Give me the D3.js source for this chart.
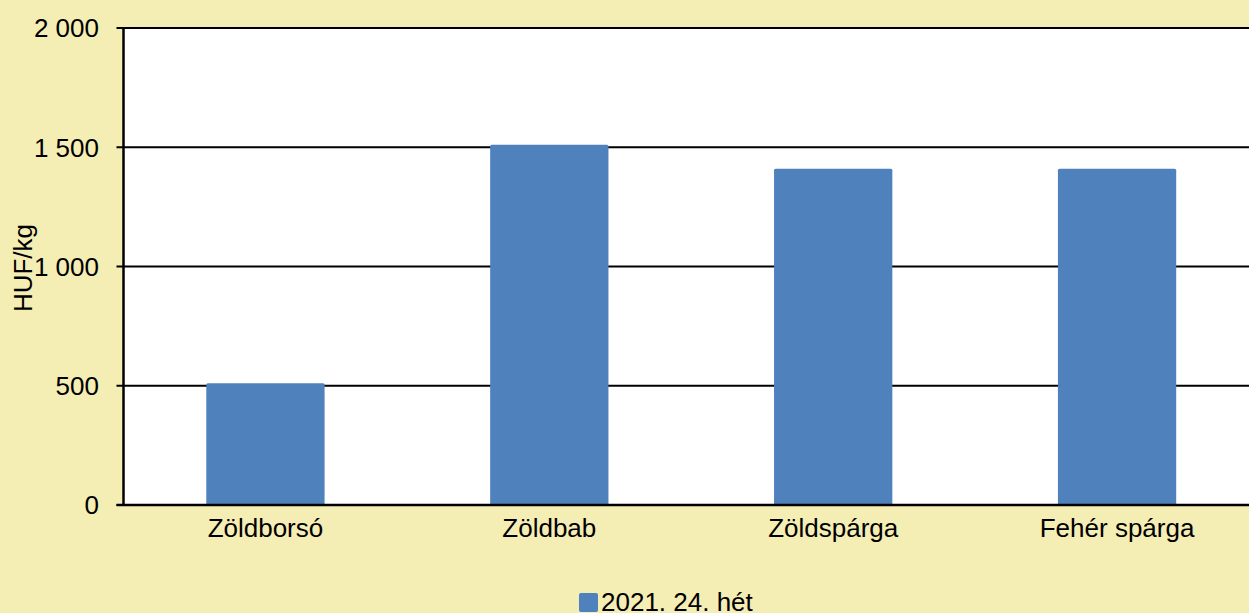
<!DOCTYPE html>
<html>
<head>
<meta charset="utf-8">
<script src="https://cdn.jsdelivr.net/npm/d3@7"></script>
<style>
  html, body { margin: 0; padding: 0; background: #F4EDB4; overflow: hidden; }
  text { font-family: "Liberation Sans", Arial, sans-serif; fill: #000; }
</style>
</head>
<body>
<div id="chart"></div>
<script>
var categories = ["Zöldborsó", "Zöldbab", "Zöldspárga", "Fehér spárga"];
var values = [510, 1510, 1410, 1410];
var yTicks = [0, 500, 1000, 1500, 2000];
var seriesName = "2021. 24. hét";
var yTitle = "HUF/kg";

var W = 1249, H = 613,
    mLeft = 123.5, mRight = 1259, mTop = 28, mBottom = 505,
    gap = 1.4 / 2.4,
    fs = "26px";

var svg = d3.select("#chart").append("svg")
    .attr("width", W)
    .attr("height", H);

svg.append("rect")
    .attr("width", W).attr("height", H)
    .style("fill", "#F4EDB4");

var x = d3.scaleBand()
    .domain(categories)
    .range([mLeft, mRight])
    .paddingInner(gap)
    .paddingOuter(gap / 2);

var y = d3.scaleLinear()
    .domain([0, 2000])
    .range([mBottom, mTop]);

// plot background
svg.append("rect")
    .attr("x", mLeft).attr("y", mTop)
    .attr("width", mRight - mLeft).attr("height", mBottom - mTop)
    .style("fill", "#fff");

// gridlines + ticks
svg.append("g")
    .selectAll("line")
    .data(yTicks)
  .enter().append("line")
    .attr("x1", mLeft - 7)
    .attr("x2", mRight)
    .attr("y1", function(d) { return y(d); })
    .attr("y2", function(d) { return y(d); })
    .style("stroke", "#000")
    .style("stroke-width", 2);

svg.append("g")
    .selectAll("text")
    .data(yTicks)
  .enter().append("text")
    .attr("x", 99)
    .attr("y", function(d) { return y(d); })
    .attr("dy", "0.36em")
    .attr("text-anchor", "end")
    .style("font-size", fs)
    .text(function(d) { return d3.format(",")(d).replace(/,/g, "\u00a0"); });

// bars
svg.append("g")
    .selectAll("rect")
    .data(values)
  .enter().append("rect")
    .attr("x", function(d, i) { return x(categories[i]); })
    .attr("y", function(d) { return y(d); })
    .attr("width", x.bandwidth())
    .attr("height", function(d) { return y(0) - y(d); })
    .attr("rx", 1.5)
    .style("fill", "#4F81BD");

// axes lines
svg.append("line")
    .attr("x1", mLeft).attr("x2", mLeft)
    .attr("y1", mTop - 1).attr("y2", mBottom + 1)
    .style("stroke", "#000").style("stroke-width", 2.5);
svg.append("line")
    .attr("x1", mLeft - 7).attr("x2", mRight)
    .attr("y1", mBottom).attr("y2", mBottom)
    .style("stroke", "#000").style("stroke-width", 2.5);

// category labels
svg.append("g")
    .selectAll("text")
    .data(categories)
  .enter().append("text")
    .attr("x", function(d) { return x(d) + x.bandwidth() / 2; })
    .attr("y", 537)
    .attr("text-anchor", "middle")
    .style("font-size", fs)
    .text(function(d) { return d; });

// y title
svg.append("text")
    .attr("transform", "translate(32,268) rotate(-90)")
    .attr("text-anchor", "middle")
    .style("font-size", fs)
    .text(yTitle);

// legend
svg.append("rect")
    .attr("x", 579).attr("y", 593)
    .attr("width", 19).attr("height", 19)
    .attr("rx", 2)
    .style("fill", "#4F81BD");
svg.append("text")
    .attr("x", 601).attr("y", 611)
    .style("font-size", fs)
    .text(seriesName);
</script>
</body>
</html>
